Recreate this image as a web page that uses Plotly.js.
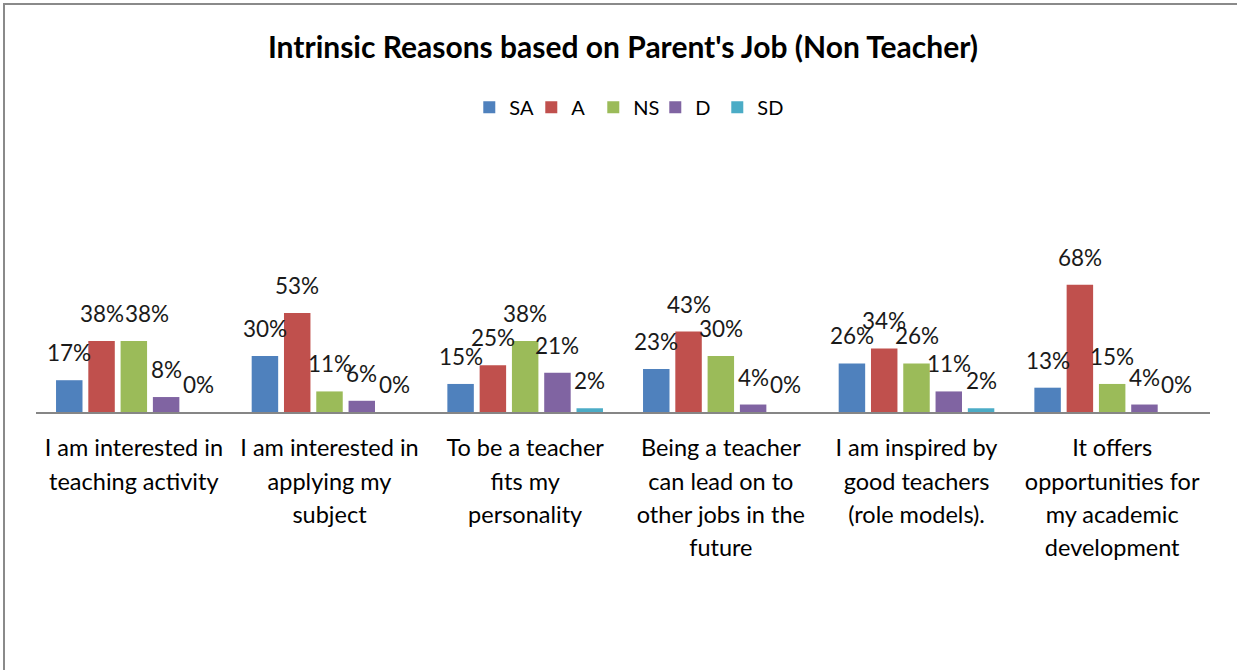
<!DOCTYPE html>
<html><head><meta charset="utf-8">
<script src="https://cdn.plot.ly/plotly-3.0.1.min.js"></script>
<style>
body{margin:0;background:#fff;overflow:hidden;}
#frame{position:absolute;left:3px;top:3px;width:1250px;height:680px;border-top:2px solid #8a8a8a;border-left:2px solid #8a8a8a;pointer-events:none;}
</style>
</head><body>
<div id="chart" style="width:1237px;height:670px;"></div>
<div id="frame"></div>
<script>
const categories = ['C1','C2','C3','C4','C5','C6'];
const tickLines = [
  ['I am interested in','teaching activity'],
  ['I am interested in','applying my','subject'],
  ['To be a teacher','fits my','personality'],
  ['Being a teacher','can lead on to','other jobs in the','future'],
  ['I am inspired by','good teachers','(role models).'],
  ['It offers','opportunities for','my academic','development']
];
const seriesNames = ['SA','A','NS','D','SD'];
const SA = [17, 30, 15, 23, 26, 13];
const A  = [38, 53, 25, 43, 34, 68];
const NS = [38, 11, 38, 30, 26, 15];
const D  = [8, 6, 21, 4, 11, 4];
const SD = [0, 0, 2, 0, 2, 0];
const seriesValues = [SA, A, NS, D, SD];
const colors = ['#4F81BD','#C0504D','#9BBB59','#8064A2','#4BACC6'];

const FONT = 'Lato, "Open Sans", sans-serif';
const bargap = 0.175, bargroupgap = 0.18;
const n = seriesValues.length;

// label nudge as in the reference (NS label of the first group moved right)
const labelNudge = {'2-0': 13};

const traces = seriesValues.map((vals, i) => ({
  type: 'bar', name: seriesNames[i], x: categories, y: vals,
  marker: {color: colors[i], line: {width: 0}},
  hoverinfo: 'skip'
}));
// empty spacer entry so the last legend label is not clipped
traces.push({type: 'scatter', mode: 'markers', name: '', x: categories, y: categories.map(() => null),
  marker: {opacity: 0, color: 'rgba(0,0,0,0)'}, hoverinfo: 'skip', showlegend: true});

const slot = (1 - bargap) / n;
const annotations = [];
seriesValues.forEach((vals, i) => {
  const off = -(1 - bargap) / 2 + slot * (i + 0.5);
  vals.forEach((v, j) => {
    annotations.push({
      x: j + off, y: v, xref: 'x', yref: 'y', text: v + '%',
      showarrow: false, yanchor: 'bottom', yshift: 12, xshift: labelNudge[i + '-' + j] || 0,
      font: {family: FONT, size: 22.5, color: '#1a1a1a'}
    });
  });
});

const ticktext = tickLines.map(lines => lines.map(l => '<span style="font-size:23.5px">' + l + '</span>').join('<br>'));

const layout = {
  width: 1237, height: 670,
  margin: {l: 36, r: 27, t: 225, b: 258},
  paper_bgcolor: '#ffffff', plot_bgcolor: '#ffffff',
  font: {family: FONT, color: '#000'},
  title: {text: "Intrinsic Reasons based on Parent's Job (Non Teacher)",
    font: {family: FONT, size: 30, weight: 'bold', color: '#000'},
    x: 0.5, xref: 'paper', xanchor: 'center', y: 1 - 47/670, yref: 'container', yanchor: 'middle'},
  barmode: 'group', bargap: bargap, bargroupgap: bargroupgap,
  showlegend: true,
  legend: {orientation: 'h', x: 0.5275, xanchor: 'center', y: 1.63, yanchor: 'middle',
    font: {family: FONT, size: 20, color: '#000'}, itemwidth: 30, traceorder: 'normal',
    entrywidth: 17, entrywidthmode: 'pixels'},
  xaxis: {type: 'category', tickvals: categories, ticktext: ticktext,
    showline: true, linecolor: '#868686', linewidth: 2, ticks: 'outside', ticklen: 12,
    tickcolor: 'rgba(0,0,0,0)', tickfont: {family: FONT, size: 25.4, color: '#000'},
    showgrid: false, zeroline: false, fixedrange: true},
  yaxis: {visible: false, range: [0, 100], showgrid: false, zeroline: false, fixedrange: true},
  annotations: annotations
};
Plotly.newPlot('chart', traces, layout, {displayModeBar: false, staticPlot: true});
</script>
</body></html>
